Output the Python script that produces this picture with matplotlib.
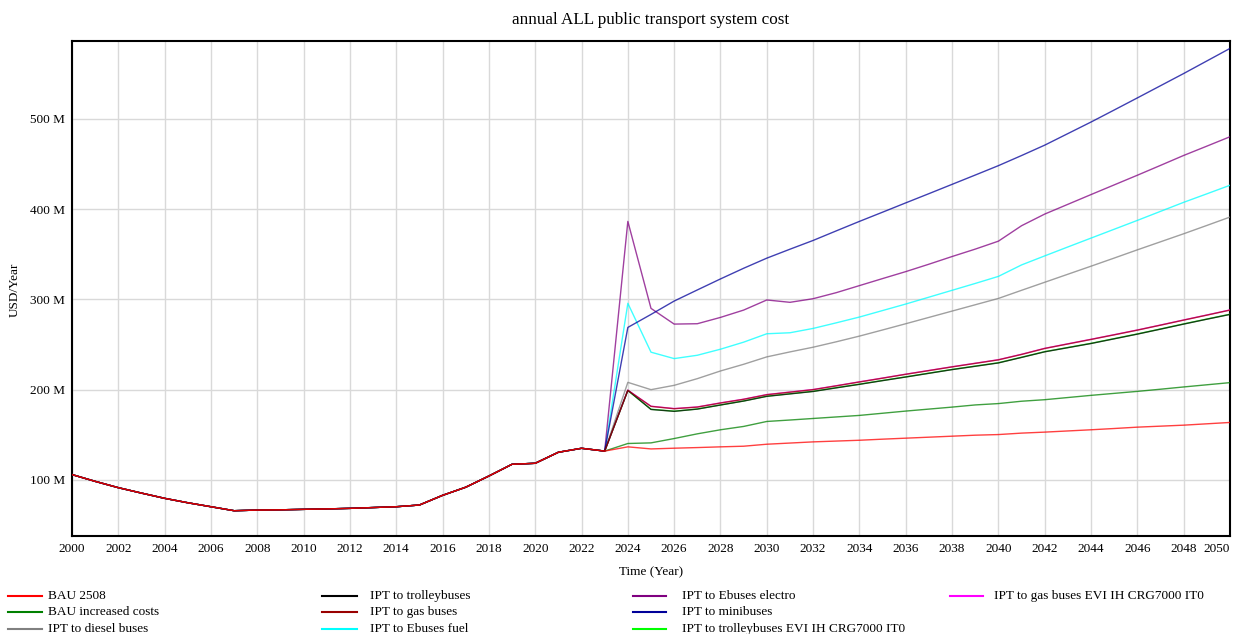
import matplotlib
matplotlib.use("Agg")
import matplotlib.pyplot as plt
from matplotlib.lines import Line2D
from matplotlib.ticker import FuncFormatter

plt.rcParams['font.family'] = ['Liberation Serif', 'DejaVu Serif']

# ---------------- data (values in millions USD / year) ----------------
years = list(range(2000, 2051))

history = [106.0, 98.5, 91.5, 85.5, 79.7, 74.8, 70.4, 66.0, 66.7, 67.0,
           67.5, 68.0, 68.6, 69.5, 70.4, 72.3, 83.0, 92.0, 104.4, 117.4,
           118.5, 130.7, 135.1, 132.0]  # 2000..2023, common to all runs

bau_2508 = [136.7, 134.4, 135.2, 135.9, 136.7, 137.4, 139.6, 140.9, 142.2, 143.1,
            144.0, 145.2, 146.3, 147.4, 148.5, 149.6, 150.3, 151.9, 153.0, 154.3,
            155.6, 157.0, 158.5, 159.6, 160.7, 162.2, 163.7]
bau_increased = [140.4, 141.1, 145.9, 151.1, 155.6, 159.3, 164.8, 166.4, 168.1, 169.8,
                 171.5, 173.9, 176.3, 178.5, 180.7, 183.1, 184.6, 187.2, 188.9, 191.3,
                 193.7, 195.9, 198.1, 200.5, 203.0, 205.4, 207.8]
ipt_diesel = [208.1, 200.0, 204.8, 212.2, 220.7, 228.1, 236.3, 241.8, 247.0, 253.0,
              259.3, 266.1, 273.0, 280.0, 287.0, 294.0, 301.0, 310.0, 318.9, 327.8,
              336.7, 345.7, 354.8, 363.7, 372.6, 381.8, 391.1]
ipt_trolley = [199.3, 178.1, 176.0, 178.5, 183.0, 187.4, 192.6, 195.3, 198.0, 202.0,
               205.9, 210.0, 214.0, 218.1, 222.2, 225.9, 229.6, 235.7, 241.9, 246.5,
               251.1, 256.3, 261.5, 267.0, 272.6, 278.0, 283.3]
ipt_gas = [199.3, 181.5, 178.9, 180.7, 185.2, 189.3, 194.4, 197.2, 200.0, 204.2,
           208.5, 212.7, 217.0, 221.1, 225.2, 229.1, 233.0, 239.0, 245.6, 250.6,
           255.6, 260.7, 265.9, 271.4, 277.0, 282.5, 288.1]
ipt_ebus_fuel = [295.6, 241.5, 234.4, 238.1, 244.8, 252.6, 261.9, 263.0, 267.8, 274.0,
                 280.4, 287.6, 294.8, 302.4, 310.0, 317.6, 325.4, 338.1, 348.1, 358.0,
                 367.8, 377.6, 387.4, 397.4, 407.4, 416.8, 426.3]
ipt_ebus_electro = [386.3, 290.0, 272.6, 273.0, 280.0, 288.1, 299.3, 296.7, 300.7, 307.4,
                    315.2, 323.0, 330.7, 338.9, 347.4, 355.6, 364.4, 381.5, 394.4, 405.2,
                    416.0, 426.7, 437.4, 448.3, 459.3, 469.6, 480.0]
ipt_minibus = [268.9, 283.3, 298.1, 310.4, 322.6, 334.4, 345.6, 355.5, 365.2, 375.8,
               386.3, 396.5, 406.8, 417.0, 427.3, 437.6, 448.0, 459.2, 470.7, 483.5,
               496.3, 509.6, 523.0, 536.5, 550.0, 563.9, 577.8]
ipt_trolley_evi = [199.0, 178.3, 176.2, 178.6, 183.1, 187.5, 192.8, 195.5, 198.2, 202.2,
                   206.1, 210.2, 214.2, 218.3, 222.4, 226.1, 229.8, 235.9, 242.1, 246.7,
                   251.3, 256.5, 261.7, 267.2, 272.8, 278.2, 283.5]
ipt_gas_evi = [199.5, 181.7, 179.1, 180.9, 185.4, 189.5, 194.6, 197.4, 200.2, 204.4,
               208.7, 212.9, 217.2, 221.3, 225.4, 229.3, 233.2, 239.2, 245.8, 250.8,
               255.8, 260.9, 266.1, 271.6, 277.2, 282.7, 288.3]

labels = ["BAU 2508", "BAU increased costs", "IPT to diesel buses",
          "IPT to trolleybuses", "IPT to gas buses", "IPT to Ebuses fuel",
          "IPT to Ebuses electro", "IPT to minibuses",
          "IPT to trolleybuses EVI IH CRG7000 IT0",
          "IPT to gas buses EVI IH CRG7000 IT0"]
series = [bau_2508, bau_increased, ipt_diesel, ipt_trolley, ipt_gas, ipt_ebus_fuel,
          ipt_ebus_electro, ipt_minibus, ipt_trolley_evi, ipt_gas_evi]
colors = ["#ff0000", "#008000", "#808080", "#000000", "#990000", "#00ffff",
          "#800080", "#000099", "#00ff00", "#ff00ff"]

title = "annual ALL public transport system cost"
x_label = "Time (Year)"
y_label = "USD/Year"
y_ticks = [100, 200, 300, 400, 500]
x_ticks = list(range(2000, 2051, 2))

# ---------------- figure ----------------
W, H = 1240, 634
fig = plt.figure(figsize=(W / 100, H / 100), dpi=100)
ax = fig.add_axes([72 / W, 1 - 536 / H, (1230 - 72) / W, (536 - 41) / H])

draw_order = [8, 9, 1, 2, 5, 6, 7, 3, 4, 0]
for i in draw_order:
    vals = history + series[i]
    ax.plot(years, vals, color=colors[i], lw=1.0, alpha=0.75, zorder=3)

ax.set_xlim(2000, 2050)
ax.set_ylim(38, 586)
ax.set_xticks(x_ticks)
ax.set_yticks(y_ticks)
ax.yaxis.set_major_formatter(FuncFormatter(lambda v, p: f"{int(v)} M"))
ax.grid(True, color="#d9d9d9", lw=1.0, zorder=0)
ax.tick_params(length=0, pad=5, labelsize=9.5)
for s in ax.spines.values():
    s.set_linewidth(1.5)
    s.set_color("black")

# keep the last x tick label inside the canvas
fig.canvas.draw()
xt = ax.get_xticklabels()
xt[-1].set_horizontalalignment("right")
xt[-1].set_x(2050.5)

fig.text(651 / W, 1 - 20 / H, title, ha="center", va="center", fontsize=12.3)
fig.text(651 / W, 1 - 572 / H, x_label, ha="center", va="center", fontsize=9.5)
fig.text(15 / W, 1 - 290 / H, y_label, ha="center", va="center", rotation=90, fontsize=9.5)

# ---------------- legend (manual, column-major 3 rows) ----------------
col_line = [(8, 42), (322, 357), (633, 666), (950, 983)]
col_text = [48, 370, 682, 994]
rows_y = [596, 612, 629]
for k, (lab, col) in enumerate(zip(labels, colors)):
    c, r = divmod(k, 3)
    y = 1 - rows_y[r] / H
    x0, x1 = col_line[c]
    fig.add_artist(Line2D([x0 / W, x1 / W], [y, y], color=col, lw=1.5,
                          transform=fig.transFigure))
    fig.text(col_text[c] / W, y, lab, ha="left", va="center", fontsize=9.5)

fig.savefig("out.png", dpi=100)
